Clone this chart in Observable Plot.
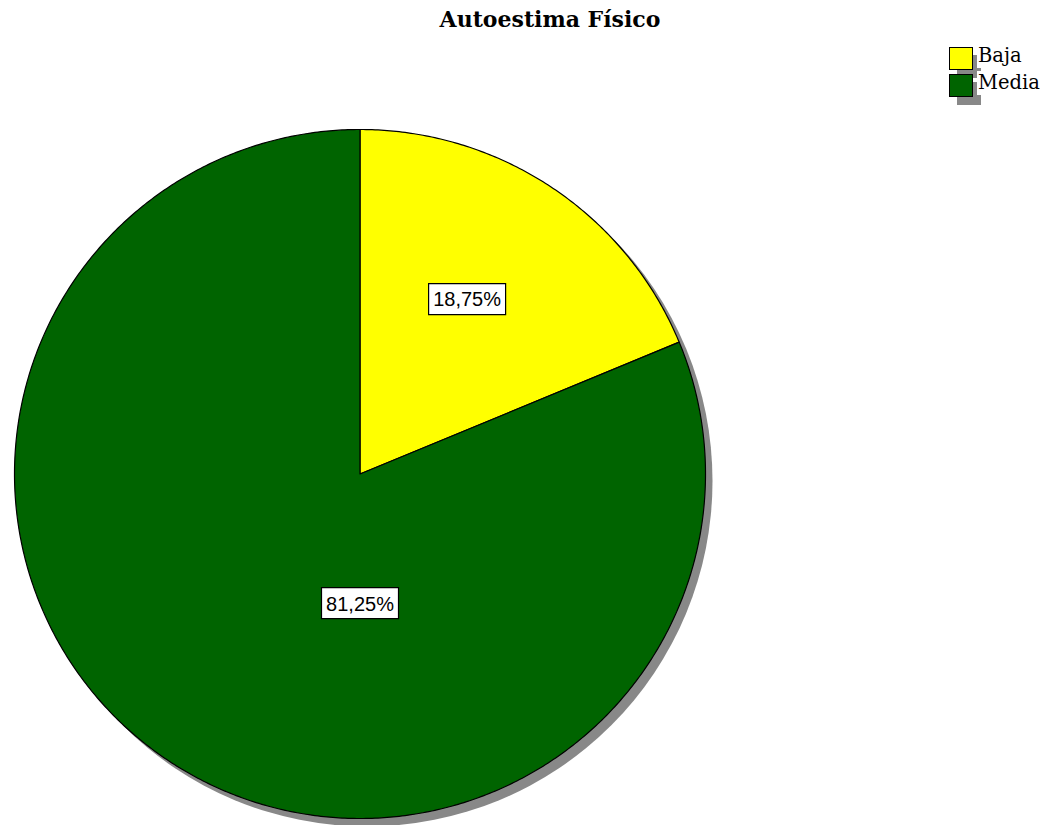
<!DOCTYPE html>
<html><head><meta charset="utf-8">
<script src="https://cdn.jsdelivr.net/npm/d3@7"></script>
<script src="https://cdn.jsdelivr.net/npm/@observablehq/plot@0.6"></script>
<style>
body{margin:0;background:#fff;}
#wrap{position:relative;width:1048px;height:825px;overflow:hidden;}
#title{position:absolute;left:0;width:1100px;top:6px;text-align:center;font:bold 22px "DejaVu Serif",serif;color:#000;}
#legend{position:absolute;left:949px;top:47px;font:19.5px "DejaVu Serif",serif;}
.item{position:relative;height:27px;}
.sw{position:absolute;left:0;top:0;width:22px;height:21px;border:1px solid #000;box-shadow:8px 8px 0 #888;}
.lab{position:absolute;left:28px;top:-3px;background:#fff;padding:0 1px;line-height:24px;}
#chart{position:absolute;left:0;top:0;}
</style></head>
<body><div id="wrap"><div id="chart"></div><div id="title"></div><div id="legend"></div></div>
<script>
const title = "Autoestima Físico";
const categories = ["Baja", "Media"];
const values = [18.75, 81.25];
const labels = ["18,75%", "81,25%"];
const colors = ["#ffff00", "#006400"];

document.getElementById("title").textContent = title;

const W = 1048, H = 825;
const xRange = [14, 705], yRange = [818, 129];
const R = (xRange[1] - xRange[0]) / 2;

const arcs = d3.pie().sort(null).value(d => d)(values);
const pts = [];
arcs.forEach((a, i) => {
  const cat = categories[i];
  pts.push({cat, x: 0, y: 0});
  const n = Math.max(2, Math.ceil((a.endAngle - a.startAngle) / (Math.PI / 360)));
  for (let k = 0; k <= n; k++) {
    const t = a.startAngle + (a.endAngle - a.startAngle) * k / n;
    pts.push({cat, x: Math.sin(t), y: Math.cos(t)});
  }
  pts.push({cat, x: 0, y: 0});
});

// label placement (polar: angle in degrees from top clockwise, distance as fraction of radius)
const placement = [{ang: 31.4, dist: 0.595}, {ang: 180, dist: 0.375}];
const lab = labels.map((t, i) => {
  const a = placement[i].ang * Math.PI / 180;
  return {text: t, x: placement[i].dist * Math.sin(a), y: placement[i].dist * Math.cos(a)};
});
const boxSymbol = {draw(ctx) { ctx.rect(-38.5, -15.5, 77, 31); }};

const plot = Plot.plot({
  width: W, height: H, margin: 0,
  x: {domain: [-1, 1], range: xRange, axis: null},
  y: {domain: [-1, 1], range: yRange, axis: null},
  color: {domain: categories, range: colors},
  marks: [
    Plot.dot([0], {x: () => 0, y: () => 0, r: R, dx: 7, dy: 7, fill: "#888", stroke: "none"}),
    Plot.line(pts, {x: "x", y: "y", z: "cat", fill: "cat", stroke: "#000", strokeWidth: 1.2, strokeLinejoin: "round"}),
    Plot.dot(lab, {x: "x", y: "y", symbol: boxSymbol, r: 10, fill: "#fff", stroke: "#000", strokeWidth: 1.2}),
    Plot.text(lab, {x: "x", y: "y", text: "text", fontSize: 20, fontFamily: "Liberation Sans, Arial, sans-serif", fill: "#000", dy: 1})
  ]
});
document.getElementById("chart").appendChild(plot);

const leg = document.getElementById("legend");
categories.forEach((c, i) => {
  const it = document.createElement("div"); it.className = "item";
  const sw = document.createElement("div"); sw.className = "sw"; sw.style.background = colors[i];
  const l = document.createElement("span"); l.className = "lab"; l.textContent = c;
  it.appendChild(sw); it.appendChild(l); leg.appendChild(it);
});
</script></body></html>
